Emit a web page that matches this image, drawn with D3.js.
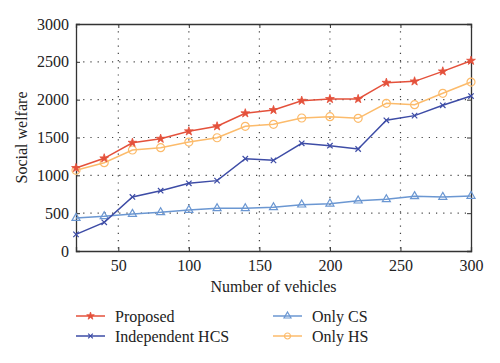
<!DOCTYPE html>
<html>
<head>
<meta charset="utf-8">
<script src="https://cdn.jsdelivr.net/npm/d3@7"></script>
<style>
  body { margin: 0; background: #fff; }
  text { font-family: "Liberation Serif", "DejaVu Serif", serif; }
</style>
</head>
<body>
<svg id="chart" width="500" height="363"></svg>
<script>
var vehicles = [20, 40, 60, 80, 100, 120, 140, 160, 180, 200, 220, 240, 260, 280, 300];

var proposed = [1097, 1225, 1431, 1484, 1582, 1648, 1820, 1863, 1986, 2009, 2009, 2224, 2242, 2374, 2515];
var independentHCS = [220, 379, 714, 797, 895, 930, 1220, 1198, 1423, 1392, 1348, 1727, 1789, 1926, 2048];
var onlyCS = [436, 458, 489, 511, 542, 564, 564, 577, 612, 625, 665, 683, 723, 714, 727];
var onlyHS = [1066, 1167, 1335, 1365, 1440, 1497, 1648, 1674, 1758, 1775, 1753, 1952, 1934, 2084, 2233];

var xTicks = [50, 100, 150, 200, 250, 300];
var yTicks = [0, 500, 1000, 1500, 2000, 2500, 3000];

var series = [
  {name: "Proposed", values: proposed, color: "#e4513b", marker: "star"},
  {name: "Independent HCS", values: independentHCS, color: "#3d4ca6", marker: "cross"},
  {name: "Only CS", values: onlyCS, color: "#6b97d2", marker: "triangle"},
  {name: "Only HS", values: onlyHS, color: "#fcbb6b", marker: "circle"}
];

var svg = d3.select("#chart"),
  margin = {top: 24, right: 29, bottom: 112, left: 76},
  width = 500 - margin.left - margin.right,
  height = 363 - margin.top - margin.bottom;

var g = svg.append("g").attr("transform", "translate(" + margin.left + "," + margin.top + ")");

var x = d3.scaleLinear().domain([20, 300]).range([0, width]);
var y = d3.scaleLinear().domain([0, 3000]).range([height, 0]);

// dotted grid
g.append("g").selectAll("line")
  .data(xTicks.filter(function(d) { return d < 300; }))
  .enter().append("line")
  .attr("x1", function(d) { return x(d); }).attr("x2", function(d) { return x(d); })
  .attr("y1", 0).attr("y2", height)
  .attr("stroke", "#444").attr("stroke-width", 1.2)
  .attr("stroke-dasharray", "1.2,6");

g.append("g").selectAll("line")
  .data(yTicks.filter(function(d) { return d > 0 && d < 3000; }))
  .enter().append("line")
  .attr("x1", 0).attr("x2", width)
  .attr("y1", function(d) { return y(d); }).attr("y2", function(d) { return y(d); })
  .attr("stroke", "#444").attr("stroke-width", 1.2)
  .attr("stroke-dasharray", "1.2,6");

// axes, ticks pointing inward
g.append("g").attr("transform", "translate(0," + height + ")")
  .call(d3.axisBottom(x).tickValues(xTicks).tickSize(-4).tickPadding(9).tickFormat(d3.format("d")));
g.append("g")
  .call(d3.axisLeft(y).tickValues(yTicks).tickSize(-4).tickPadding(7).tickFormat(d3.format("d")));
g.append("g").call(d3.axisTop(x).tickValues(xTicks).tickSize(-4).tickFormat(""));
g.append("g").attr("transform", "translate(" + width + ",0)")
  .call(d3.axisRight(y).tickValues(yTicks).tickSize(-4).tickFormat(""));

g.selectAll(".domain").attr("stroke", "#333").attr("stroke-width", 1.3);
g.selectAll(".tick line").attr("stroke", "#333");
g.selectAll(".tick text").attr("font-family", "Liberation Serif").attr("font-size", 16).attr("fill", "#222");

// lines
var line = d3.line()
  .x(function(d, i) { return x(vehicles[i]); })
  .y(function(d) { return y(d); });

function drawMarker(sel, type, color, s) {
  if (type === "star") {
    sel.append("path")
      .attr("d", d3.symbol().type(d3.symbolStar).size(s * 3)())
      .attr("fill", color).attr("stroke", color).attr("stroke-width", 0.8);
  } else if (type === "cross") {
    sel.append("path")
      .attr("d", d3.symbol().type(d3.symbolX).size(s * 2.6)())
      .attr("fill", "none").attr("stroke", color).attr("stroke-width", 1.2);
  } else if (type === "triangle") {
    sel.append("path")
      .attr("d", d3.symbol().type(d3.symbolTriangle).size(s * 3.5)())
      .attr("fill", "none").attr("stroke", color).attr("stroke-width", 1.2);
  } else {
    sel.append("circle").attr("r", s * 0.5)
      .attr("fill", "none").attr("stroke", color).attr("stroke-width", 1.2);
  }
}

var order = [2, 3, 1, 0];
order.forEach(function(k) {
  var s = series[k];
  g.append("path").datum(s.values)
    .attr("fill", "none").attr("stroke", s.color).attr("stroke-width", 1.5)
    .attr("d", line);
  s.values.forEach(function(v, i) {
    var m = g.append("g").attr("transform", "translate(" + x(vehicles[i]) + "," + y(v) + ")");
    drawMarker(m, s.marker, s.color, 8);
  });
});

// axis labels
svg.append("text")
  .attr("x", margin.left + width / 2).attr("y", 292)
  .attr("text-anchor", "middle").attr("font-size", 16).attr("fill", "#222")
  .text("Number of vehicles");

svg.append("text")
  .attr("transform", "translate(27," + (margin.top + height / 2) + ") rotate(-90)")
  .attr("text-anchor", "middle").attr("font-size", 16).attr("fill", "#222")
  .text("Social welfare");

// legend
var legendPos = [[76, 316], [76, 336], [273, 316], [273, 336]];
series.forEach(function(s, i) {
  var lg = svg.append("g").attr("transform", "translate(" + legendPos[i][0] + "," + legendPos[i][1] + ")");
  lg.append("line").attr("x1", 0).attr("x2", 29).attr("y1", 0).attr("y2", 0)
    .attr("stroke", s.color).attr("stroke-width", 1.5);
  var m = lg.append("g").attr("transform", "translate(14.5,0)");
  drawMarker(m, s.marker, s.color, 6);
  lg.append("text").attr("x", 39).attr("y", 5.5)
    .attr("font-size", 16).attr("fill", "#222").text(s.name);
});
</script>
</body>
</html>
